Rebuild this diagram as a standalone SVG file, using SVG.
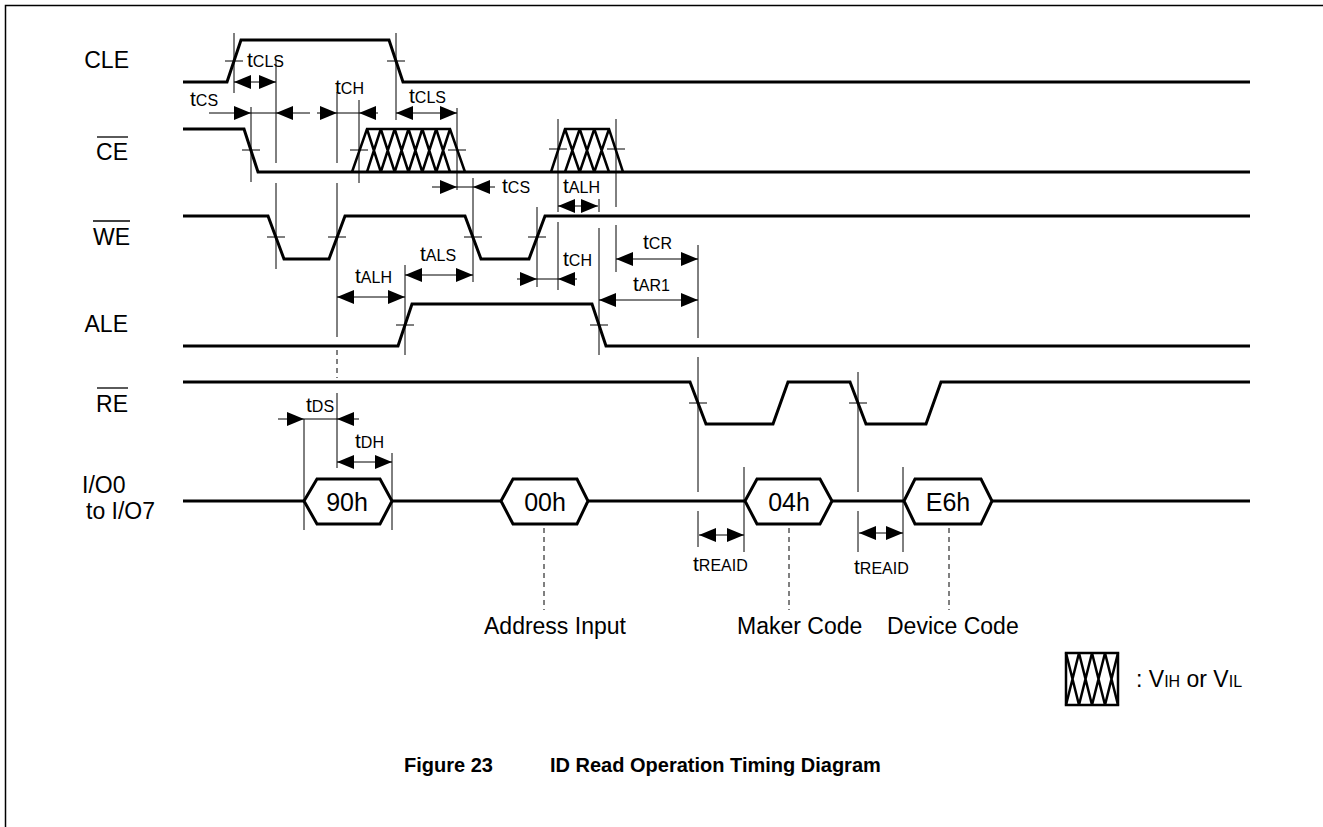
<svg xmlns="http://www.w3.org/2000/svg" width="1323" height="827" viewBox="0 0 1323 827">
<style>
text{font-family:"Liberation Sans",Arial,sans-serif;fill:#000}
.lbl{font-size:23px}
.sig{fill:none;stroke:#000;stroke-width:3;stroke-linejoin:miter}
.thin{fill:none;stroke:#000;stroke-width:1}
.dash{fill:none;stroke:#000;stroke-width:1;stroke-dasharray:5,4}
.xh{fill:none;stroke:#000;stroke-width:2.5}
.tm{font-size:21px}
.sub{font-size:16px}
.hex{fill:#fff;stroke:#000;stroke-width:3}
.hx{font-size:25px;text-anchor:middle}
.cap{font-size:20px;font-weight:bold}
.arr{fill:none;stroke:#000;stroke-width:1}
</style>
<defs>
<marker id="ah" viewBox="0 0 17 14" refX="17" refY="7" markerWidth="17" markerHeight="14" markerUnits="userSpaceOnUse" orient="auto-start-reverse">
<path d="M0,0 L17,7 L0,14 z" fill="#000"/>
</marker>
</defs>
<rect width="1323" height="827" fill="#fff"/>
<path d="M5.5,827 V5.5 H1323" fill="none" stroke="#000" stroke-width="1.5"/>

<g id="labels">
<text class="lbl" x="129" y="68" text-anchor="end">CLE</text>
<text class="lbl" x="128" y="160" text-anchor="end">CE</text>
<line x1="97" y1="137" x2="128" y2="137" stroke="#000" stroke-width="1.3"/>
<text class="lbl" x="130" y="245" text-anchor="end">WE</text>
<line x1="93" y1="221" x2="130" y2="221" stroke="#000" stroke-width="1.3"/>
<text class="lbl" x="128" y="332" text-anchor="end">ALE</text>
<text class="lbl" x="128" y="412" text-anchor="end">RE</text>
<line x1="97" y1="388" x2="128" y2="388" stroke="#000" stroke-width="1.3"/>
<text class="lbl" x="82" y="493">I/O0</text>
<text class="lbl" x="86" y="519">to I/O7</text>
</g>

<g id="CLE">
<path class="sig" d="M183,82 H227 L241,40 H389 L403,82 H1250"/>
<path class="thin" d="M225,61 H243 M387,61 H405"/>
</g>

<g id="CE">
<path class="sig" d="M183,129 H244 L258,172 H1250"/>
<path class="xh" d="M352,172 L367,129 H450 L465,172"/>
<path class="xh" d="M367,172 L380.8,129 M367,129 L380.8,172 M380.8,172 L394.7,129 M380.8,129 L394.7,172 M394.7,172 L408.5,129 M394.7,129 L408.5,172 M408.5,172 L422.3,129 M408.5,129 L422.3,172 M422.3,172 L436.2,129 M422.3,129 L436.2,172 M436.2,172 L450,129 M436.2,129 L450,172"/>
<path class="xh" d="M551,172 L565,129 H609 L623,172"/>
<path class="xh" d="M565,172 L579.7,129 M565,129 L579.7,172 M579.7,172 L594.3,129 M579.7,129 L594.3,172 M594.3,172 L609,129 M594.3,129 L609,172"/>
<path class="thin" d="M242,150 H260 M350,150 H368 M448,150 H466 M549,149 H567 M607,149 H625"/>
</g>

<g id="WE">
<path class="sig" d="M183,216 H268 L284,259 H329 L345,216 H465 L481,259 H529 L545,216 H1250"/>
<path class="thin" d="M267,237 H285 M328,237 H346 M464,237 H482 M528,237 H546"/>
</g>

<g id="ALE">
<path class="sig" d="M183,346 H398 L412,304 H592 L606,346 H1250"/>
<path class="thin" d="M396,325 H414 M590,325 H608"/>
</g>

<g id="RE">
<path class="sig" d="M183,382 H690 L706,424 H773 L788,382 H850 L866,424 H926 L941,382 H1250"/>
<path class="thin" d="M689,403 H707 M849,403 H867"/>
</g>

<g id="IO">
<path class="sig" d="M183,501 H304 M392,501 H501 M588,501 H745 M832,501 H904 M992,501 H1250"/>
<g id="d90"><polygon class="hex" points="304,501 317,479 380,479 392,501 380,524 317,524"/><text class="hx" x="347" y="511">90h</text></g>
<g id="d00"><polygon class="hex" points="501,501 513,479 577,479 588,501 577,524 513,524"/><text class="hx" x="545" y="511">00h</text></g>
<g id="d04"><polygon class="hex" points="745,501 757,479 820,479 832,501 820,524 757,524"/><text class="hx" x="789" y="511">04h</text></g>
<g id="dE6"><polygon class="hex" points="904,501 915,479 981,479 992,501 981,524 915,524"/><text class="hx" x="948" y="511">E6h</text></g>
</g>

<g id="guides">
<path class="thin" d="M234,33 V93 M396,33 V120 M251,107 V182 M276,60 V163 M276,183 V269 M337,92 V163 M337,183 V337 M337,393 V468 M359,100 V183 M457,108 V190 M473,178 V282 M405,265 V355 M558,119 V212 M558,222 V290 M616,119 V207 M616,225 V272 M537,207 V287 M599,199 V212 M599,228 V355 M698,245 V338 M698,357 V492 M698,511 V547 M858,372 V492 M858,511 V552 M744,467 V552 M903,467 V552 M304,419 V530 M392,453 V530"/>
<path class="dash" d="M337,350 V378 M544,528 V610 M789,528 V610 M949,528 V610"/>
</g>

<g id="connectors">
<line class="arr" x1="234" y1="82" x2="276" y2="82" marker-start="url(#ah)" marker-end="url(#ah)"/>
<line class="arr" x1="209" y1="113" x2="251" y2="113" marker-end="url(#ah)"/>
<line class="arr" x1="251" y1="113" x2="276" y2="113"/>
<line class="arr" x1="310" y1="113" x2="276" y2="113" marker-end="url(#ah)"/>
<line class="arr" x1="317" y1="113" x2="337" y2="113" marker-end="url(#ah)"/>
<line class="arr" x1="337" y1="113" x2="359" y2="113"/>
<line class="arr" x1="378" y1="113" x2="359" y2="113" marker-end="url(#ah)"/>
<line class="arr" x1="396" y1="113" x2="457" y2="113" marker-start="url(#ah)" marker-end="url(#ah)"/>
<line class="arr" x1="432" y1="187" x2="457" y2="187" marker-end="url(#ah)"/>
<line class="arr" x1="457" y1="187" x2="473" y2="187"/>
<line class="arr" x1="495" y1="187" x2="473" y2="187" marker-end="url(#ah)"/>
<line class="arr" x1="558" y1="206" x2="598" y2="206" marker-start="url(#ah)" marker-end="url(#ah)"/>
<line class="arr" x1="517" y1="279" x2="537" y2="279" marker-end="url(#ah)"/>
<line class="arr" x1="537" y1="279" x2="558" y2="279"/>
<line class="arr" x1="577" y1="279" x2="558" y2="279" marker-end="url(#ah)"/>
<line class="arr" x1="616" y1="259" x2="698" y2="259" marker-start="url(#ah)" marker-end="url(#ah)"/>
<line class="arr" x1="599" y1="300" x2="698" y2="300" marker-start="url(#ah)" marker-end="url(#ah)"/>
<line class="arr" x1="337" y1="297" x2="405" y2="297" marker-start="url(#ah)" marker-end="url(#ah)"/>
<line class="arr" x1="405" y1="275" x2="473" y2="275" marker-start="url(#ah)" marker-end="url(#ah)"/>
<line class="arr" x1="278" y1="419" x2="304" y2="419" marker-end="url(#ah)"/>
<line class="arr" x1="304" y1="419" x2="337" y2="419"/>
<line class="arr" x1="359" y1="419" x2="337" y2="419" marker-end="url(#ah)"/>
<line class="arr" x1="337" y1="462" x2="392" y2="462" marker-start="url(#ah)" marker-end="url(#ah)"/>
<line class="arr" x1="699" y1="535" x2="744" y2="535" marker-start="url(#ah)" marker-end="url(#ah)"/>
<line class="arr" x1="859" y1="533" x2="903" y2="533" marker-start="url(#ah)" marker-end="url(#ah)"/>
</g>

<g id="timing-labels">
<text class="tm" x="247" y="67">t<tspan class="sub">CLS</tspan></text>
<text class="tm" x="190" y="106">t<tspan class="sub">CS</tspan></text>
<text class="tm" x="335" y="94">t<tspan class="sub">CH</tspan></text>
<text class="tm" x="409" y="103">t<tspan class="sub">CLS</tspan></text>
<text class="tm" x="502" y="193">t<tspan class="sub">CS</tspan></text>
<text class="tm" x="563" y="193">t<tspan class="sub">ALH</tspan></text>
<text class="tm" x="563" y="266">t<tspan class="sub">CH</tspan></text>
<text class="tm" x="643" y="249">t<tspan class="sub">CR</tspan></text>
<text class="tm" x="633" y="291">t<tspan class="sub">AR1</tspan></text>
<text class="tm" x="355" y="283">t<tspan class="sub">ALH</tspan></text>
<text class="tm" x="420" y="261">t<tspan class="sub">ALS</tspan></text>
<text class="tm" x="306" y="412">t<tspan class="sub">DS</tspan></text>
<text class="tm" x="355" y="448">t<tspan class="sub">DH</tspan></text>
<text class="tm" x="693" y="571">t<tspan class="sub">REAID</tspan></text>
<text class="tm" x="854" y="574">t<tspan class="sub">REAID</tspan></text>
</g>

<g id="annotations">
<text class="lbl" x="484" y="634">Address Input</text>
<text class="lbl" x="737" y="634">Maker Code</text>
<text class="lbl" x="887" y="634">Device Code</text>
</g>

<g id="legend">
<rect x="1066" y="653" width="52" height="52" class="xh" stroke-width="3"/>
<path class="xh" d="M1066,705 L1079,653 M1066,653 L1079,705 M1079,705 L1092,653 M1079,653 L1092,705 M1092,705 L1105,653 M1092,653 L1105,705 M1105,705 L1118,653 M1105,653 L1118,705"/>
<text class="lbl" x="1136" y="687">: V<tspan class="sub">IH</tspan> or V<tspan class="sub">IL</tspan></text>
</g>

<g id="caption">
<text class="cap" x="404" y="772">Figure 23</text>
<text class="cap" x="550" y="772">ID Read Operation Timing Diagram</text>
</g>
</svg>
